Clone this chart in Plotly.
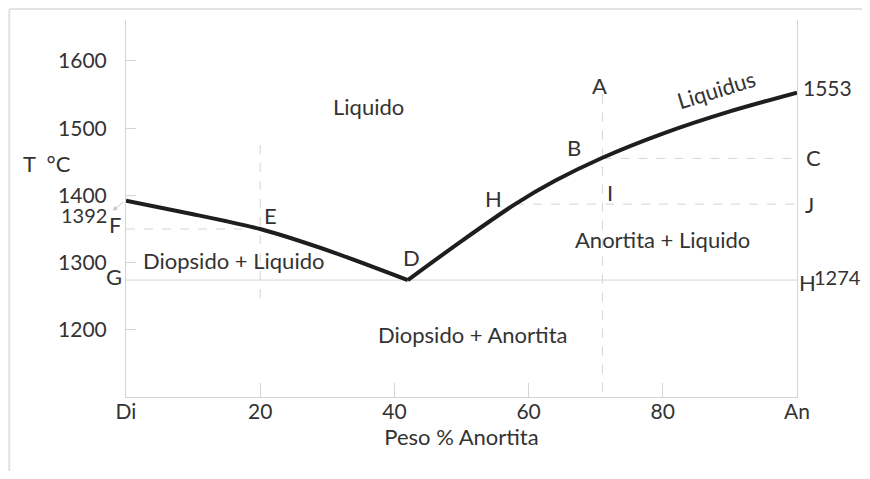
import plotly.graph_objects as go

# Data (weight % anorthite vs temperature, °C)
liq_left_x = [0, 10, 20, 31, 42]
liq_left_t = [1392, 1372, 1350, 1315, 1274]
liq_right_x = [42, 50, 58, 64, 71, 80, 90, 100]
liq_right_t = [1274, 1332, 1387, 1422, 1456, 1492, 1525, 1553]

x_tickvals = [0, 20, 40, 60, 80, 100]
x_ticktext = ["Di", "20", "40", "60", "80", "An"]
y_tickvals = [1200, 1300, 1400, 1500, 1600]

eutectic_t = 1274
t_E = 1350
t_C = 1455
t_J = 1387
x_E = 20
x_A = 71
x_H = 58

X_RANGE = [0, 100]
Y_RANGE = [1100, 1661]

FONT = "Lato"
TXT = "#333333"
GRID = "#d4d4d4"
TS = 22
NS = 21

fig = go.Figure()

# Helper lines
fig.add_trace(go.Scatter(x=[0, 100], y=[eutectic_t, eutectic_t], mode="lines",
                         line=dict(color=GRID, width=1), hoverinfo="skip"))
fig.add_trace(go.Scatter(x=[0, x_E], y=[t_E, t_E], mode="lines",
                         line=dict(color=GRID, width=1, dash="dash"), hoverinfo="skip"))
fig.add_trace(go.Scatter(x=[x_E, x_E], y=[1475, 1237], mode="lines",
                         line=dict(color=GRID, width=1, dash="dash"), hoverinfo="skip"))
fig.add_trace(go.Scatter(x=[x_A, x_A], y=[1550, 1100], mode="lines",
                         line=dict(color=GRID, width=1, dash="dash"), hoverinfo="skip"))
fig.add_trace(go.Scatter(x=[x_A, 100], y=[t_C, t_C], mode="lines",
                         line=dict(color=GRID, width=1, dash="dash"), hoverinfo="skip"))
fig.add_trace(go.Scatter(x=[x_H, 100], y=[t_J, t_J], mode="lines",
                         line=dict(color=GRID, width=1, dash="dash"), hoverinfo="skip"))

# Liquidus curves
fig.add_trace(go.Scatter(x=liq_left_x, y=liq_left_t, mode="lines",
                         line=dict(color="#1e1e1e", width=4, shape="spline", smoothing=0.6),
                         hoverinfo="skip"))
fig.add_trace(go.Scatter(x=liq_right_x, y=liq_right_t, mode="lines",
                         line=dict(color="#1e1e1e", width=4, shape="spline", smoothing=0.8),
                         hoverinfo="skip"))

# labels inside the plot area (data coordinates)
inner_labels = [
    ("Liquido", 36.1, 1532, TS),
    ("Diopsido + Liquido", 16.0, 1303, TS),
    ("Diopsido + Anortita", 51.7, 1193, TS),
    ("Anortita + Liquido", 79.9, 1334, TS),
    ("E", 21.5, 1370, TS),
    ("D", 42.6, 1307, TS),
    ("H", 54.8, 1396, TS),
    ("B", 66.8, 1471, TS),
    ("A", 70.6, 1563, TS),
    ("I", 72.2, 1404, TS),
]
for txt, x, y, s in inner_labels:
    fig.add_annotation(x=x, y=y, xref="x", yref="y", text=txt, showarrow=False,
                       xanchor="center", yanchor="middle",
                       font=dict(family=FONT, size=s, color=TXT))

fig.add_annotation(x=88, y=1557, xref="x", yref="y", text="Liquidus", showarrow=False,
                   textangle=-17, xanchor="center", yanchor="middle",
                   font=dict(family=FONT, size=TS, color=TXT))


def to_paper(x, t):
    return ((x - X_RANGE[0]) / (X_RANGE[1] - X_RANGE[0]),
            (t - Y_RANGE[0]) / (Y_RANGE[1] - Y_RANGE[0]))


# labels outside the plot area (placed in data units, converted to paper)
outer_labels = [
    ("T\u00a0\u00a0°C", -11.7, 1448, TS),
    ("1392", -6.3, 1371, 20),
    ("F", -1.6, 1357, TS),
    ("G", -1.8, 1279, TS),
    ("C", 102.5, 1456, TS),
    ("J", 101.9, 1387, TS),
    ("H", 101.6, 1270, TS),
    ("1274", 106.0, 1279, 20),
    ("1553", 104.5, 1561, NS),
]
for txt, x, y, s in outer_labels:
    px, py = to_paper(x, y)
    fig.add_annotation(x=px, y=py, xref="paper", yref="paper", text=txt, showarrow=False,
                       xanchor="center", yanchor="middle",
                       font=dict(family=FONT, size=s, color=TXT))

# small arrow near the 1392 label
hx, hy = to_paper(-2.0, 1377)
fig.add_annotation(x=hx, y=hy, ax=12, ay=-10, xref="paper", yref="paper",
                   text="", showarrow=True, arrowhead=2, arrowsize=1, arrowwidth=1,
                   arrowcolor="#c8c8c8")

# Outer frame lines (top and left)
fig.add_shape(type="line", xref="paper", yref="paper", x0=-0.174, x1=1.11, y0=1.029, y1=1.029,
              line=dict(color="#e2e2e2", width=2))
fig.add_shape(type="line", xref="paper", yref="paper", x0=-0.174, x1=-0.174, y0=1.029, y1=-0.2,
              line=dict(color="#e2e2e2", width=2))

fig.update_layout(
    width=862, height=463,
    margin=dict(l=118, r=73, t=12, b=74),
    paper_bgcolor="white", plot_bgcolor="white",
    showlegend=False,
    font=dict(family=FONT, color=TXT, size=TS),
    xaxis=dict(range=X_RANGE, tickvals=x_tickvals, ticktext=x_ticktext,
               showgrid=False, zeroline=False, showline=True, linecolor=GRID, linewidth=1,
               ticks="inside", ticklen=14, tickcolor=GRID, tickfont=dict(size=NS, color=TXT),
               ticklabelstandoff=-4,
               title=dict(text="Peso % Anortita", font=dict(size=TS, color=TXT), standoff=4)),
    yaxis=dict(range=Y_RANGE, tickvals=y_tickvals,
               showgrid=False, zeroline=False, showline=True, linecolor=GRID, linewidth=1,
               mirror=True, ticks="inside", ticklen=10, tickcolor=GRID,
               ticklabelstandoff=14, tickfont=dict(size=NS, color=TXT)),
)

fig.write_html("out.html")
